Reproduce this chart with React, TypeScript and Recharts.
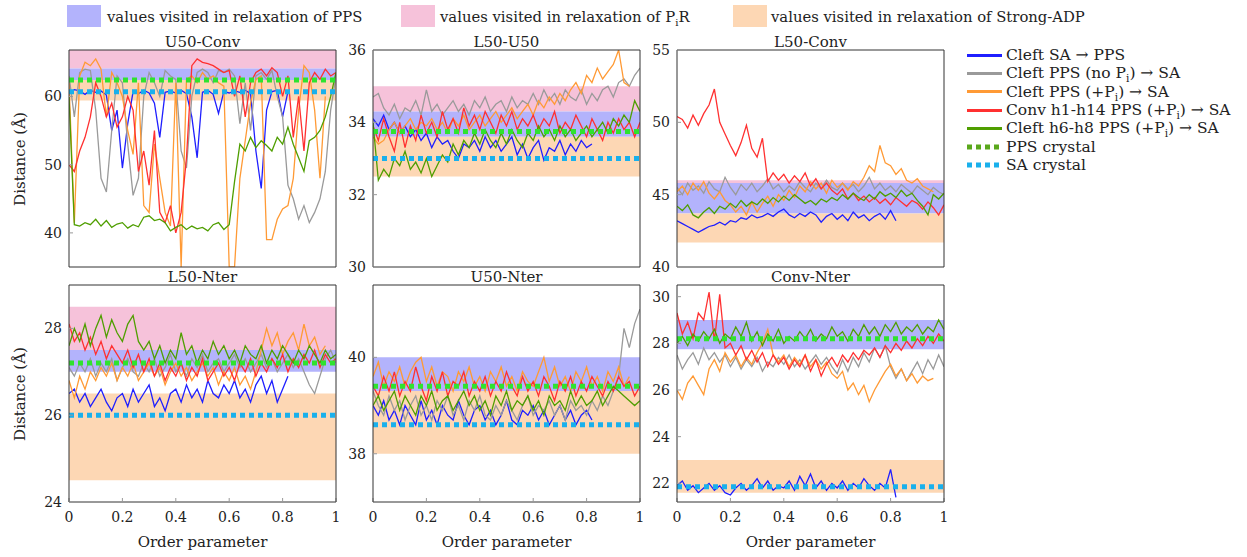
import React from 'react';
import { LineChart, Line, XAxis, YAxis, ReferenceArea, ReferenceLine } from 'recharts';

// ---------------- DATA ----------------
const X = [0,0.02,0.04,0.06,0.08,0.1,0.12,0.14,0.16,0.18,0.2,0.22,0.24,0.26,0.28,0.3,0.32,0.34,0.36,0.38,0.4,0.42,0.44,0.46,0.48,0.5,0.52,0.54,0.56,0.58,0.6,0.62,0.64,0.66,0.68,0.7,0.72,0.74,0.76,0.78,0.8,0.82,0.84,0.86,0.88,0.9,0.92,0.94,0.96,0.98,1];
const X_TICKS = [0, 0.2, 0.4, 0.6, 0.8, 1];

const TITLES = ['U50-Conv', 'L50-U50', 'L50-Conv', 'L50-Nter', 'U50-Nter', 'Conv-Nter'];
const SERIES_NAMES = ['Cleft SA → PPS', 'Cleft PPS (no Pi) → SA', 'Cleft PPS (+Pi) → SA', 'Conv h1-h14 PPS (+Pi) → SA', 'Cleft h6-h8 PPS (+Pi) → SA'];
const BAND_NAMES = ['values visited in relaxation of PPS', 'values visited in relaxation of PiR', 'values visited in relaxation of Strong-ADP'];

const Y_DOMAINS = [[35, 66.8], [30, 36], [40, 55], [24, 29], [37, 41.5], [21.2, 30.5]];
const Y_TICKS = [[40, 50, 60], [30, 32, 34, 36], [40, 45, 50, 55], [24, 26, 28], [38, 40], [22, 24, 26, 28, 30]];
const PPS_CRYSTAL = [62.4, 33.75, null, 27.2, 39.4, 28.2];
const SA_CRYSTAL = [60.7, 33.0, null, 26.0, 38.6, 21.85];
const BAND_PPS = [[62.4, 64.1], [33.6, 34.3], [43.7, 45.8], [27.0, 27.5], [39.3, 40], [27.75, 29]];
const BAND_PIR = [[64.1, 66.8], [34.3, 35], [45.8, 46.0], [27.5, 28.5], null, null];
const BAND_ADP = [[59.4, 62.4], [32.5, 33.6], [41.7, 43.7], [24.5, 26.5], [38, 39.3], [21.6, 23]];

// U50-Conv
const U50CONV_BLUE = [60.5,61,60.8,60.3,60.9,60.6,60.8,60.2,55,58,49.5,56,60.7,60.4,60.9,60.5,59,54,60.6,60.8,60.5,60.9,60.4,57,51,60.6,60.9,60.3,57.5,60.7,60.5,60.8,60.6,60.9,60.4,52,46.5,58,60.7,60.9,57,60.7];
const U50CONV_GRAY = [63,57,63.5,64,63.8,58,48,46,55,63,62,53,45.5,48,60,63.5,62,60,63.8,63,62.5,52,49.5,60,63.5,64,63.5,62,63.8,63.5,64,63,56,62,55,63,63.5,62.5,63.8,60,57,47,45,42,44,41.5,43,45,49,58,63];
const U50CONV_ORANGE = [62,41.5,63,65,64.5,65.5,64,57,63.5,62,60,55,51.5,62,44,43,53,48,43,41,62,35,62.5,63,62,63.5,62.5,63,62,61.5,35,35,48,53.5,59,62.5,63,39,39,42,43.5,44,48,58,64.5,63.5,58,48,60];
const U50CONV_RED = [50,49,52,54,57,62,60,57,59,55.5,57,60,58,49,52,47,55,43,41.5,44,40,43,51,64.5,65.5,65,64.8,64.5,64,63.5,63.8,60,63,57,62,63.5,64,63,64.2,63.5,60,63,54,60,52,62,63.5,62.5,64,63,63.5];
const U50CONV_GREEN = [60,41.2,41,41.5,41.2,42,41,41.8,40.8,41.3,41.5,40.7,41.2,40.9,42.3,42.5,41.8,42,41.5,40.3,40.8,41.2,40.5,41,40.6,40.8,40.3,41.2,41.5,40.5,41.2,47.5,53,52,54,52.5,53.5,52.8,52,54,53,55.5,53,51,49,53.5,54,55,57,60,63.5];

// L50-U50
const L50U50_BLUE = [34.1,33.9,34.2,33.8,34.0,33.7,33.9,33.6,33.8,33.5,33.7,33.3,33.6,33.4,33.5,33.2,33.0,33.4,33.3,33.5,33.2,33.6,33.3,33.5,33.2,33.4,33.6,33.1,33.4,33.0,33.3,33.5,32.95,33.3,33.2,33.5,33.1,33.4,33.2,33.5,33.3,33.4];
const L50U50_GRAY = [34.7,34.8,34.4,34.2,34.5,34.1,34.4,34.3,34.6,34.2,34.9,34.3,34.5,34.2,34.4,34.6,34.3,34.5,34.2,34.6,34.4,34.7,34.3,34.5,34.6,34.3,34.7,34.4,34.6,34.5,34.8,34.5,34.9,34.6,34.8,34.5,34.9,34.7,34.6,34.9,34.5,34.8,34.6,34.9,35.0,34.7,35.1,35.2,35.0,35.3,35.5];
const L50U50_ORANGE = [33.6,33.4,33.5,33.8,34.0,33.7,33.9,34.1,33.8,34.0,33.9,34.1,33.8,34.0,33.7,34.1,33.9,34.2,33.8,34.0,34.2,33.9,34.1,34.3,34.0,34.2,34.4,34.1,34.3,34.5,34.2,34.6,34.4,34.7,34.5,34.8,34.6,34.9,35.1,34.8,35.3,35.1,35.5,35.2,35.4,35.6,36.0,35.1,35.0];
const L50U50_RED = [33.9,33.5,34.1,33.6,33.2,34.0,33.3,33.9,33.5,34.2,33.7,34.0,33.6,34.3,33.8,34.1,33.7,34.4,33.9,34.2,33.8,34.3,34.0,33.7,34.2,33.9,34.3,33.8,34.1,33.9,34.2,33.8,34.1,33.9,34.3,33.7,34.0,33.8,34.2,33.9,33.6,34.1,33.8,33.5,34.0,33.7,34.1,33.8,34.0,33.6,34.0];
const L50U50_GREEN = [34.0,32.4,32.7,32.5,33.0,32.8,33.2,32.7,32.9,32.6,33.0,32.5,32.8,33.1,32.9,33.4,33.1,33.5,33.3,33.7,33.4,33.8,33.5,33.3,33.7,33.4,33.8,33.5,33.3,33.7,33.5,33.9,33.6,33.8,33.5,33.9,33.6,33.8,33.5,33.7,33.9,33.6,33.8,34.0,33.7,34.1,33.9,34.2,34.0,34.6,34.3];

// L50-Conv
const L50CONV_BLUE = [43.2,43.0,42.8,42.6,42.4,42.6,42.8,42.9,43.1,42.9,43.2,43.1,43.4,43.3,43.6,43.4,43.5,43.7,43.5,43.8,44.0,43.6,43.4,43.7,43.5,43.8,43.6,43.1,43.5,43.7,43.3,43.6,43.2,43.8,43.4,43.6,43.2,43.5,43.7,43.3,43.9,43.2];
const L50CONV_GRAY = [45.5,45.0,45.8,45.3,45.6,45.1,45.9,45.4,45.2,46.2,45.5,45.0,45.7,45.3,45.8,45.2,45.6,46.1,45.4,45.7,45.2,45.6,45.3,45.9,45.5,45.2,45.8,45.4,46.0,45.5,45.3,45.8,45.4,45.7,45.2,45.6,46.2,45.4,45.8,45.3,45.6,45.2,45.7,45.4,45.1,45.6,45.3,45.0,45.5,45.2,45.0];
const L50CONV_ORANGE = [45.2,45.6,45.0,45.8,45.3,45.9,45.1,44.7,45.2,44.6,44.3,43.8,44.2,43.6,44.5,43.8,44.4,44.9,44.2,45.0,44.6,45.3,44.8,45.6,45.2,45.9,45.4,45.8,45.1,46.0,45.5,45.8,45.3,45.9,45.6,46.2,47.0,46.6,48.4,47.2,47.0,46.4,46.8,46.0,45.8,46.1,45.6,45.4,45.2];
const L50CONV_RED = [50.4,50.2,49.6,50.5,49.8,50.6,51.2,52.3,50.0,49.2,48.4,47.7,48.6,49.8,48.2,47.6,48.9,45.9,46.5,46.0,46.4,45.8,46.3,45.9,46.5,45.6,46.1,45.4,45.8,45.3,45.0,45.4,44.7,45.1,44.6,44.9,44.5,44.8,44.4,44.7,44.3,44.8,44.5,44.2,44.6,44.4,44.0,44.5,44.1,43.6,44.3];
const L50CONV_GREEN = [44.2,43.9,44.3,43.6,43.4,43.8,44.1,43.7,44.2,44.0,44.4,44.1,44.6,44.2,44.5,44.3,44.7,44.4,44.8,44.5,44.9,44.6,45.0,44.7,44.4,44.6,44.3,44.7,44.5,44.8,44.6,45.0,44.7,45.1,44.8,44.6,45.0,44.7,45.2,44.9,45.1,44.8,45.3,44.9,45.1,44.6,44.2,43.6,45.0,44.7,45.1];

// L50-Nter
const L50NTER_BLUE = [26.5,26.6,26.3,26.5,26.2,26.4,26.6,26.3,26.1,26.4,26.5,26.2,26.6,26.3,26.5,26.7,26.2,26.4,26.1,26.5,26.6,26.3,26.7,26.4,26.6,26.3,26.8,26.5,26.4,26.7,26.5,26.8,26.4,26.6,26.3,26.7,26.9,26.5,26.8,26.3,26.6,26.9];
const L50NTER_GRAY = [27.1,26.9,27.2,27.0,27.3,26.9,27.2,27.0,27.3,26.8,27.1,27.3,27.0,26.9,27.2,27.0,27.3,26.9,27.1,27.4,27.0,27.2,26.9,27.3,27.1,27.4,27.0,27.2,27.3,27.0,27.2,27.4,27.1,27.3,27.0,27.2,27.4,27.1,27.3,27.0,27.2,27.4,27.1,27.3,27.0,26.7,26.5,26.9,27.3,27.5,27.2];
const L50NTER_ORANGE = [26.8,26.4,26.9,26.6,27.0,26.8,27.1,26.9,27.2,26.8,27.1,26.9,27.2,26.8,27.0,27.2,26.9,27.1,26.7,27.0,27.2,26.9,27.1,26.8,27.0,27.2,26.9,27.1,26.7,27.0,26.8,27.1,26.7,26.9,26.6,27.0,27.5,28.0,27.6,27.9,27.4,27.7,27.9,27.5,28.1,27.6,27.8,27.4,27.6];
const L50NTER_RED = [28.1,27.7,27.9,27.5,27.8,27.4,27.7,27.3,27.6,27.4,27.2,27.5,27.1,27.4,27.0,27.3,26.9,27.2,26.8,27.1,26.9,27.2,26.8,27.1,26.9,27.3,26.8,27.0,27.2,26.9,27.1,26.8,27.2,27.0,27.3,26.9,27.2,27.0,27.3,27.1,27.4,27.0,27.3,27.1,27.4,27.2,27.5,27.1,27.4,27.2,27.3];
const L50NTER_GREEN = [27.6,28.0,27.7,28.1,27.6,28.0,28.3,27.8,28.2,27.9,27.7,28.1,28.3,27.7,27.5,27.7,27.3,27.6,27.2,27.5,27.3,27.9,27.4,27.6,27.2,27.5,27.3,27.7,27.4,27.6,27.3,27.5,27.2,27.6,27.4,27.3,27.6,27.2,27.5,27.3,27.6,27.4,27.2,27.5,27.3,27.6,27.4,27.2,27.5,27.3,27.4];

// U50-Nter
const U50NTER_BLUE = [39.0,38.8,39.1,38.7,38.9,38.6,39.0,38.8,38.6,39.1,38.7,38.9,38.6,39.0,38.8,38.7,39.1,38.8,38.6,38.9,39.0,38.7,38.9,38.6,38.8,39.1,38.7,38.6,38.9,38.8,39.0,38.7,38.9,38.6,38.8,39.0,38.7,38.9,38.6,38.8,38.9,38.7];
const U50NTER_GRAY = [39.3,39.0,38.8,39.2,38.9,39.1,38.7,39.0,39.2,38.8,39.0,38.7,39.1,38.9,39.2,38.8,39.0,38.7,39.1,38.9,39.2,38.8,38.7,39.0,38.8,39.1,38.9,38.7,39.0,39.2,38.8,39.0,38.9,39.1,38.8,39.0,38.7,39.1,38.9,39.0,38.8,39.1,38.9,39.2,39.0,39.3,39.6,40.6,40.2,40.7,41.0];
const U50NTER_ORANGE = [39.6,39.9,39.4,39.7,39.5,39.8,39.4,39.7,39.9,40.0,39.5,39.8,39.4,39.7,39.6,39.3,39.7,39.5,39.8,39.4,39.6,39.3,39.7,39.5,39.8,39.4,39.6,39.3,39.7,39.5,39.4,39.7,40.0,39.5,39.8,39.4,39.6,39.3,39.7,39.5,39.8,39.4,39.6,39.3,39.7,39.5,39.8,39.4,39.6];
const U50NTER_RED = [39.4,39.2,39.6,39.3,39.7,39.2,39.5,39.3,39.8,39.4,39.1,39.6,39.3,39.7,39.2,39.5,39.4,39.7,39.2,39.5,39.3,39.6,39.2,39.5,39.3,39.7,39.4,39.2,39.6,39.3,39.5,39.2,39.6,39.4,39.1,39.5,39.3,39.6,39.2,39.5,39.3,39.6,39.4,39.2,39.5,39.3,39.6,39.4,39.5,39.2,39.4];
const U50NTER_GREEN = [39.0,39.2,38.9,39.1,39.3,38.9,39.2,39.0,38.8,39.2,39.0,39.3,38.9,39.1,39.2,38.9,39.1,39.3,39.0,39.2,38.9,39.1,38.8,39.2,39.0,39.3,38.9,39.1,39.0,39.2,38.9,39.1,38.8,39.2,39.0,39.1,38.9,39.3,39.0,39.2,39.0,39.1,39.3,39.0,39.2,39.4,39.3,39.2,39.1,39.0,39.1];

// Conv-Nter
const CONVNTER_BLUE = [21.9,22.1,21.7,21.9,21.6,21.8,22.0,21.7,21.9,21.6,21.5,21.8,22.0,21.7,21.9,22.2,21.8,22.1,21.7,21.9,21.8,22.1,21.7,22.3,21.9,22.4,21.8,22.1,21.7,22.0,21.8,22.1,21.7,22.0,21.8,22.2,21.9,21.7,22.0,21.8,22.6,21.4];
const CONVNTER_GRAY = [27.5,26.9,27.3,27.6,27.1,27.8,27.3,27.6,27.2,27.5,27.0,27.4,26.9,27.3,27.0,27.4,26.8,27.2,27.0,27.4,27.1,27.5,27.0,27.3,26.9,27.2,27.5,27.1,27.4,27.0,26.7,27.3,26.8,27.4,27.0,27.6,27.2,27.8,27.4,27.9,27.0,26.5,26.9,26.4,26.8,27.2,26.7,27.3,26.9,27.5,27.0];
const CONVNTER_ORANGE = [26.0,25.6,26.3,26.6,26.2,25.8,26.9,27.3,26.8,27.6,27.2,27.5,27.0,27.4,27.1,27.6,28.0,28.6,27.5,27.2,27.5,27.0,27.4,27.1,27.5,27.0,27.3,26.9,27.2,26.7,26.5,26.8,26.0,26.3,25.8,26.2,25.5,26.0,26.4,26.8,27.1,26.6,26.9,26.4,26.7,26.3,26.6,26.4,26.5];
const CONVNTER_RED = [29.3,28.4,28.9,28.2,29.3,29.0,30.2,28.1,30.1,27.8,28.0,27.5,27.9,27.3,27.7,27.2,27.6,27.0,27.5,27.1,27.4,26.9,27.3,27.0,27.5,26.8,27.3,26.6,27.1,27.4,27.0,27.5,27.2,27.6,27.3,27.7,27.5,27.8,27.4,27.9,27.6,28.0,27.7,28.1,27.8,28.2,27.9,28.3,28.0,28.4,28.1];
const CONVNTER_GREEN = [28.0,28.3,27.9,28.4,28.1,28.5,28.2,28.6,28.0,28.4,28.2,28.7,28.3,28.9,28.1,28.5,27.9,28.4,28.1,28.6,28.0,28.3,28.1,28.5,28.2,28.6,28.1,28.4,28.2,28.7,28.3,28.5,28.1,28.6,28.3,28.8,28.4,28.7,28.3,28.8,28.5,28.9,28.4,28.7,28.5,28.8,28.4,28.7,28.5,29.0,28.6];

const PANELS = [
  [U50CONV_BLUE, U50CONV_GRAY, U50CONV_ORANGE, U50CONV_RED, U50CONV_GREEN],
  [L50U50_BLUE, L50U50_GRAY, L50U50_ORANGE, L50U50_RED, L50U50_GREEN],
  [L50CONV_BLUE, L50CONV_GRAY, L50CONV_ORANGE, L50CONV_RED, L50CONV_GREEN],
  [L50NTER_BLUE, L50NTER_GRAY, L50NTER_ORANGE, L50NTER_RED, L50NTER_GREEN],
  [U50NTER_BLUE, U50NTER_GRAY, U50NTER_ORANGE, U50NTER_RED, U50NTER_GREEN],
  [CONVNTER_BLUE, CONVNTER_GRAY, CONVNTER_ORANGE, CONVNTER_RED, CONVNTER_GREEN],
];

// ---------------- STYLE ----------------
const FONT = '"DejaVu Serif", serif';
const SERIES_KEYS = ['blue', 'gray', 'orange', 'red', 'green'];
const SERIES_COLORS = ['#1f1fff', '#9a9a9a', '#ff9a35', '#ff3030', '#4f9e00'];
const BAND_COLORS = ['#b3b3fc', '#f6c2da', '#fdd7b4'];
const PPS_CRYSTAL_COLOR = '#2fe32f';
const PPS_CRYSTAL_LEGEND = '#5aa81c';
const SA_CRYSTAL_COLOR = '#19b0ec';

const PLOT_LEFT = [69, 373, 677];
const PLOT_TOP = [50, 285];
const PLOT_W = 267;
const PLOT_H = 217;
const ML = 45, MR = 10, MT = 10, MB = 30;

function withSub(text: string) {
  const parts = text.split('Pi');
  const out: any[] = [];
  parts.forEach((p, k) => {
    out.push(<span key={'t' + k}>{p}</span>);
    if (k < parts.length - 1) out.push(<span key={'p' + k}>P<sub style={{ fontSize: '0.68em', lineHeight: 0 }}>i</sub></span>);
  });
  return out;
}

function Panel({ i }: { i: number }) {
  const col = i % 3;
  const row = Math.floor(i / 3);
  const left = PLOT_LEFT[col];
  const top = PLOT_TOP[row];
  const series = PANELS[i];
  const rows = X.map((x, k) => {
    const r: any = { x };
    SERIES_KEYS.forEach((key, s) => { r[key] = series[s][k]; });
    return r;
  });
  const dom = Y_DOMAINS[i];
  const tickStyle = { fontSize: 14, fontFamily: FONT, fill: '#222' };
  const bands = [BAND_PIR[i], BAND_PPS[i], BAND_ADP[i]];
  const bandCols = [BAND_COLORS[1], BAND_COLORS[0], BAND_COLORS[2]];
  return (
    <div style={{ position: 'absolute', left: left - ML, top: top - MT }}>
      <LineChart
        width={ML + PLOT_W + MR}
        height={MT + PLOT_H + MB}
        data={rows}
        margin={{ top: MT - 1, right: MR - 1, bottom: 0, left: ML - 40 }}
      >
        <XAxis dataKey="x" type="number" domain={[0, 1]} ticks={X_TICKS} interval={0}
          height={MB} tickSize={-4} tickMargin={14}
          axisLine={{ stroke: '#333' }} tickLine={{ stroke: '#999' }}
          tick={row === 1 ? tickStyle : false} allowDataOverflow />
        <XAxis xAxisId="top" orientation="top" dataKey="x" type="number" domain={[0, 1]} ticks={X_TICKS} interval={0}
          height={1} tickSize={-4} axisLine={{ stroke: '#333' }} tickLine={{ stroke: '#999' }} tick={false} allowDataOverflow />
        <YAxis type="number" domain={dom} ticks={Y_TICKS[i]} interval={0} width={40}
          tickSize={-4} tickMargin={11} axisLine={{ stroke: '#333' }} tickLine={{ stroke: '#999' }}
          tick={tickStyle} allowDataOverflow />
        <YAxis yAxisId="right" orientation="right" type="number" domain={dom} ticks={Y_TICKS[i]} interval={0} width={1}
          tickSize={-4} axisLine={{ stroke: '#333' }} tickLine={{ stroke: '#999' }} tick={false} allowDataOverflow />
        {bands.map((b, k) => b ? (
          <ReferenceArea key={'b' + k} x1={0} x2={1} y1={b[0]} y2={b[1]} fill={bandCols[k]} fillOpacity={1} stroke="none" ifOverflow="hidden" />
        ) : null)}
        {SERIES_KEYS.map((key, s) => (
          <Line key={key} dataKey={key} name={SERIES_NAMES[s]} stroke={SERIES_COLORS[s]} strokeWidth={1.3}
            dot={false} isAnimationActive={false} type="linear" />
        ))}
        {PPS_CRYSTAL[i] != null && (
          <ReferenceLine y={PPS_CRYSTAL[i] as number} stroke={PPS_CRYSTAL_COLOR} strokeWidth={5} strokeDasharray="5 4" />
        )}
        {SA_CRYSTAL[i] != null && (
          <ReferenceLine y={SA_CRYSTAL[i] as number} stroke={SA_CRYSTAL_COLOR} strokeWidth={5} strokeDasharray="5 4" />
        )}
      </LineChart>
    </div>
  );
}

export default function App() {
  const txt: React.CSSProperties = { position: 'absolute', fontFamily: FONT, color: '#222', whiteSpace: 'nowrap' };
  return (
    <div style={{ position: 'absolute', left: 0, top: 0, width: 1247, height: 557, background: '#fff', overflow: 'hidden' }}>
      {[0, 1, 2, 3, 4, 5].map((i) => <Panel key={i} i={i} />)}

      {/* titles */}
      {TITLES.map((t, i) => {
        const col = i % 3, row = Math.floor(i / 3);
        return (
          <div key={t} style={{ ...txt, left: PLOT_LEFT[col], width: PLOT_W, top: (row === 0 ? 42 : 277) - 10, height: 20, lineHeight: '20px', textAlign: 'center', fontSize: 15 }}>{t}</div>
        );
      })}

      {/* y labels */}
      {[159, 394].map((cy) => (
        <div key={cy} style={{ ...txt, left: 20 - 60, top: cy - 10, width: 120, height: 20, lineHeight: '20px', textAlign: 'center', fontSize: 15, transform: 'rotate(-90deg)' }}>Distance (Å)</div>
      ))}

      {/* x labels */}
      {PLOT_LEFT.map((l) => (
        <div key={l} style={{ ...txt, left: l, width: PLOT_W, top: 542 - 10, height: 20, lineHeight: '20px', textAlign: 'center', fontSize: 15 }}>Order parameter</div>
      ))}

      {/* top legend */}
      {[[67, 107], [401, 440], [733, 771]].map(([rx, tx], k) => (
        <React.Fragment key={k}>
          <div style={{ position: 'absolute', left: rx, top: 5, width: 34, height: 22, background: BAND_COLORS[k] }} />
          <div style={{ ...txt, left: tx, top: 7, height: 20, lineHeight: '20px', fontSize: 14.8 }}>{withSub(BAND_NAMES[k])}</div>
        </React.Fragment>
      ))}

      {/* right legend */}
      {SERIES_NAMES.map((n, k) => (
        <React.Fragment key={n}>
          <div style={{ position: 'absolute', left: 967, top: 55 + 18.35 * k - 1.5, width: 35, height: 3, background: SERIES_COLORS[k] }} />
          <div style={{ ...txt, left: 1006, top: 55 + 18.35 * k - 10, height: 20, lineHeight: '20px', fontSize: 15.5 }}>{withSub(n)}</div>
        </React.Fragment>
      ))}
      {[['PPS crystal', PPS_CRYSTAL_LEGEND], ['SA crystal', SA_CRYSTAL_COLOR]].map(([n, c], j) => {
        const cy = 55 + 18.35 * (5 + j);
        return (
          <React.Fragment key={n}>
            <svg style={{ position: 'absolute', left: 967, top: cy - 3 }} width={36} height={6}>
              <line x1={0} y1={3} x2={36} y2={3} stroke={c} strokeWidth={5} strokeDasharray="5 4" />
            </svg>
            <div style={{ ...txt, left: 1006, top: cy - 10, height: 20, lineHeight: '20px', fontSize: 15.5 }}>{n}</div>
          </React.Fragment>
        );
      })}
    </div>
  );
}
